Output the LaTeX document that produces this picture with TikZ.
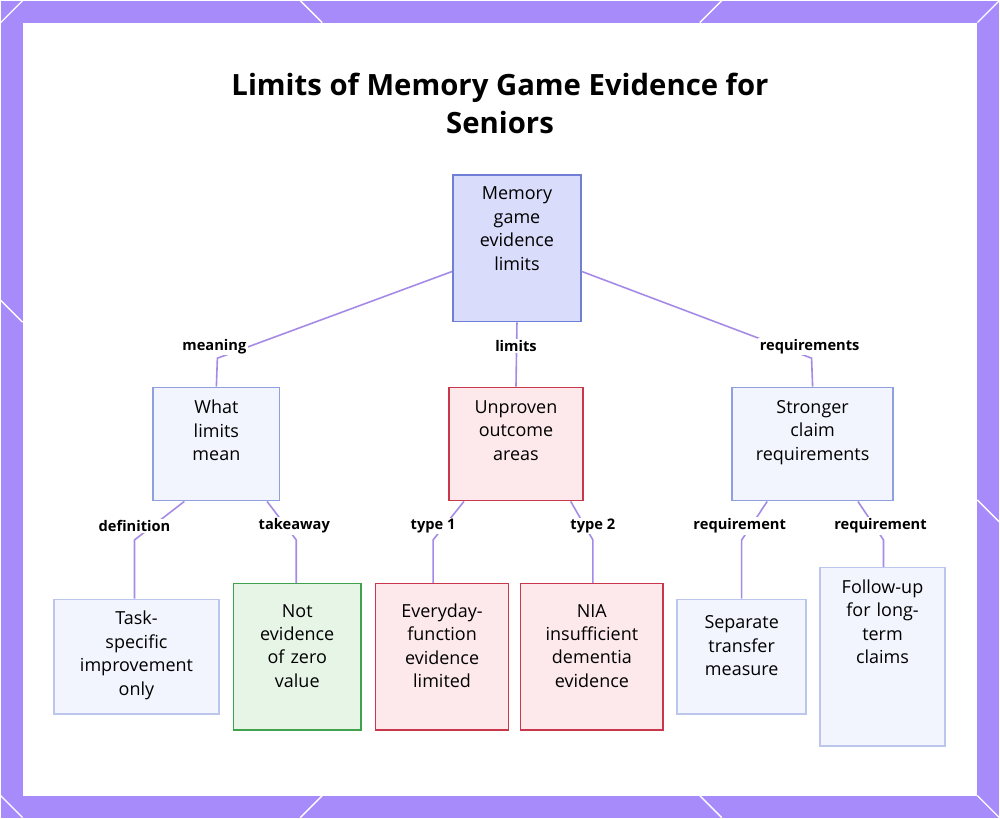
\documentclass[tikz,border=0pt]{standalone}
\usepackage{fontspec}
\setmainfont{Open Sans}
\usetikzlibrary{positioning}
\definecolor{frame}{HTML}{A78BFA}
\definecolor{edge}{HTML}{A58BE6}
\definecolor{bluefill}{HTML}{F3F5FE}
\definecolor{blueline}{HTML}{8FA0E0}
\definecolor{rootfill}{HTML}{DADCFB}
\definecolor{rootline}{HTML}{6F7FD6}
\definecolor{redfill}{HTML}{FDE9EC}
\definecolor{redline}{HTML}{C8384A}
\definecolor{greenfill}{HTML}{E7F5E7}
\definecolor{greenline}{HTML}{3FA34D}
\tikzset{
  box/.style = {draw, line width=1.2pt, align=center, font=\fontsize{13.5}{17.6}\selectfont, inner sep=2pt},
  bluebox/.style = {box, fill=bluefill, draw=blueline},
  redbox/.style = {box, fill=redfill, draw=redline},
  greenbox/.style = {box, fill=greenfill, draw=greenline},
  link/.style = {draw=edge, line width=1.2pt},
  tag/.style = {font=\bfseries\fontsize{11}{13}\selectfont, fill=white, inner sep=1pt}
}
\begin{document}
\begin{tikzpicture}[x=0.75pt, y=-0.75pt]

  % frame
  \fill[frame] (0,0) rectangle (1000,818);
  \fill[white] (22,22) rectangle (978,796);
  \foreach \a/\b/\c/\d in {0/22/22/0, 300/0/322/22, 700/22/722/0, 978/22/1000/0, 0/796/22/818, 978/796/1000/818, 300/818/322/796, 700/796/722/818, 0/300/22/322, 978/500/1000/522}
    \draw[white, line width=1pt] (\a,\b) -- (\c,\d);

  % title
  \node[font=\bfseries\fontsize{22}{29}\selectfont, align=center] (title) at (500,103) {Limits of Memory Game Evidence for\\Seniors};

  % top level
  \node[box, fill=rootfill, draw=rootline, text width=88, minimum width=96, minimum height=110] (root) at (517,248) {Memory\\game\\evidence\\limits\\[12pt]\mbox{}};

  % second level
  \node[bluebox, text width=80, minimum width=95, minimum height=85] (mean) at (216,444) {What\\limits\\mean\\[3pt]\mbox{}};
  \node[redbox, text width=90, minimum width=101, minimum height=85] (areas) at (516,444) {Unproven\\outcome\\areas\\[3pt]\mbox{}};
  \node[bluebox, text width=115, minimum width=121, minimum height=85] (claims) at (813,444) {Stronger\\claim\\requirements\\[3pt]\mbox{}};

  % third level
  \node[bluebox, draw=blueline!60, text width=115, minimum width=124, minimum height=86] (task) at (136,657) {Task-\\specific\\improvement\\only\\[-12pt]\mbox{}};
  \node[greenbox, text width=85, minimum width=96, minimum height=110] (zero) at (297,657) {Not\\evidence\\of zero\\value\\[-1pt]\mbox{}};
  \node[redbox, text width=92, minimum width=100, minimum height=110] (daily) at (442,657) {Everyday-\\function\\evidence\\limited\\[-1pt]\mbox{}};
  \node[redbox, text width=98, minimum width=107, minimum height=110] (nia) at (592,657) {NIA\\insufficient\\dementia\\evidence\\[-1pt]\mbox{}};
  \node[bluebox, draw=blueline!60, text width=88, minimum width=97, minimum height=86] (sep) at (742,657) {Separate\\transfer\\measure\\[-1pt]\mbox{}};
  \node[bluebox, draw=blueline!60, text width=85, minimum width=94, minimum height=134] (follow) at (883,657) {Follow-up\\for long-\\term\\claims\\[35pt]\mbox{}};

  % links from root
  \draw[link] ([yshift=38.25pt]root.south west) -- (217,358) -- (mean.north);
  \draw[link] (root.south) -- (areas.north);
  \draw[link] ([yshift=38.25pt]root.south east) -- (812,358) -- (claims.north);
  \node[tag] (t1) at (214,346) {meaning};
  \node[tag] (t2) at (516,346) {limits};
  \node[tag] (t3) at (810,346) {requirements};

  % links to third level
  \draw[link] ([xshift=24pt]mean.south west) -- (134,540) -- (task.north -| 134,0);
  \draw[link] ([xshift=-10pt]mean.south east) -- (296,540) -- (zero.north -| 296,0);
  \draw[link] ([xshift=12pt]areas.south west) -- (433,540) -- (daily.north -| 433,0);
  \draw[link] ([xshift=-10pt]areas.south east) -- (593,540) -- (nia.north -| 593,0);
  \draw[link] ([xshift=27pt]claims.south west) -- (742,540) -- (sep.north -| 742,0);
  \draw[link] ([xshift=-27pt]claims.south east) -- (884,540) -- (follow.north -| 884,0);
  \node[tag] (t4) at (134,526) {definition};
  \node[tag] (t5) at (294,526) {takeaway};
  \node[tag] (t6) at (433,526) {type 1};
  \node[tag] (t7) at (593,526) {type 2};
  \node[tag] (t8) at (740,526) {requirement};
  \node[tag] (t9) at (881,526) {requirement};

\end{tikzpicture}
\end{document}
